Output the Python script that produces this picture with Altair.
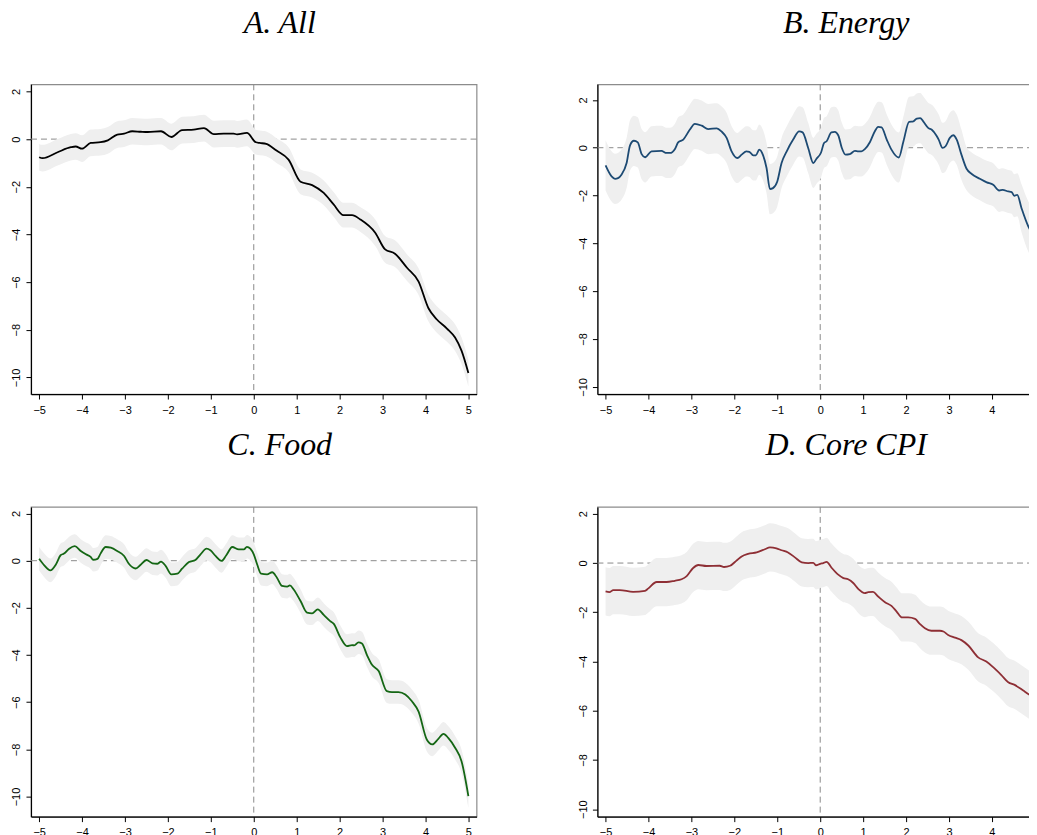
import altair as alt
import pandas as pd

# A. All
all_x = [-5, -4.92, -4.57, -4.26, -4.15, -4.0, -3.8, -3.57, -3.4, -3.18, -3.02,
         -2.83, -2.63, -2.47, -2.16, -1.92, -1.67, -1.4, -1.16, -0.93, -0.7,
         -0.47, -0.39, -0.16, 0.05, 0.14, 0.29, 0.53, 0.81, 1.09, 1.36, 1.63,
         1.86, 2.09, 2.29, 2.48, 2.83, 3.06, 3.29, 3.57, 3.84, 4.07, 4.26, 4.5,
         4.69, 4.84, 5.0]
all_y = [-0.76, -0.8, -0.55, -0.34, -0.31, -0.4, -0.16, -0.13, -0.05, 0.19,
         0.23, 0.33, 0.31, 0.30, 0.33, 0.09, 0.38, 0.40, 0.46, 0.21, 0.23, 0.23,
         0.2, 0.26, -0.13, -0.16, -0.2, -0.48, -0.86, -1.79, -1.93, -2.26,
         -2.74, -3.19, -3.19, -3.37, -3.93, -4.63, -4.81, -5.4, -5.98, -7.1,
         -7.56, -7.95, -8.33, -8.88, -9.82]
all_hw = [0.56] * 24 + [0.52] * 12 + [0.56] * 11

# B. Energy
energy_x = [-5, -4.86, -4.78, -4.71, -4.63, -4.51, -4.43, -4.34, -4.25, -4.16,
            -4.08, -3.93, -3.7, -3.58, -3.5, -3.38, -3.31, -3.19, -3.04, -2.92,
            -2.76, -2.61, -2.41, -2.3, -2.18, -2.07, -1.93, -1.83, -1.72, -1.65,
            -1.56, -1.5, -1.42, -1.33, -1.25, -1.17, -1.1, -1.0, -0.9, -0.78,
            -0.63, -0.49, -0.41, -0.28, -0.16, -0.09, 0.02, 0.09, 0.15, 0.26,
            0.34, 0.42, 0.5, 0.59, 0.69, 0.81, 0.89, 0.96, 1.04, 1.16, 1.27,
            1.35, 1.43, 1.55, 1.66, 1.83, 1.94, 2.07, 2.17, 2.25, 2.33, 2.4,
            2.52, 2.6, 2.71, 2.76, 2.85, 2.92, 3.02, 3.1, 3.18, 3.29, 3.41,
            3.53, 3.72, 3.88, 4.03, 4.17, 4.25, 4.38, 4.46, 4.52, 4.59, 4.69,
            4.85, 5.0]
energy_y = [-0.74, -1.2, -1.3, -1.27, -1.13, -0.64, 0.1, 0.29, 0.22, -0.27,
            -0.4, -0.15, -0.13, -0.22, -0.22, -0.04, 0.22, 0.34, 0.75, 1.0,
            0.92, 0.78, 0.81, 0.68, 0.41, -0.13, -0.43, -0.29, -0.15, -0.17,
            -0.32, -0.32, -0.08, -0.32, -0.85, -1.73, -1.69, -1.41, -0.64,
            -0.15, 0.34, 0.68, 0.64, -0.01, -0.64, -0.47, -0.2, 0.2, 0.27, 0.64,
            0.66, 0.52, 0.01, -0.29, -0.27, -0.13, -0.15, -0.15, -0.06, 0.24,
            0.68, 0.87, 0.85, 0.34, -0.08, -0.41, 0.27, 1.08, 1.1, 1.22, 1.24,
            1.1, 0.82, 0.75, 0.5, 0.34, -0.01, 0.06, 0.41, 0.52, 0.34, -0.29,
            -0.88, -1.1, -1.3, -1.45, -1.55, -1.79, -1.76, -1.83, -1.86, -2.01,
            -1.97, -2.53, -3.3, -3.72]
energy_hw = [1.05] * 82 + [0.9] * 11 + [1.0, 1.05, 1.1]

# C. Food
food_x = [-5, -4.88, -4.74, -4.61, -4.5, -4.42, -4.3, -4.17, -4.03, -3.91, -3.8,
          -3.74, -3.64, -3.57, -3.45, -3.33, -3.18, -3.02, -2.91, -2.75, -2.64,
          -2.5, -2.36, -2.25, -2.16, -2.05, -1.92, -1.78, -1.67, -1.51, -1.36,
          -1.24, -1.1, -1.01, -0.89, -0.75, -0.64, -0.5, -0.35, -0.23, -0.16,
          -0.08, 0.0, 0.08, 0.17, 0.31, 0.43, 0.54, 0.66, 0.78, 0.84, 0.93,
          1.09, 1.24, 1.36, 1.49, 1.63, 1.78, 1.86, 2.02, 2.17, 2.29, 2.34,
          2.44, 2.52, 2.64, 2.75, 2.91, 3.1, 3.22, 3.37, 3.53, 3.68, 3.84,
          4.03, 4.16, 4.3, 4.42, 4.53, 4.69, 4.84, 5.0]
food_y = [0.08, -0.2, -0.41, -0.16, 0.23, 0.3, 0.51, 0.62, 0.41, 0.27, 0.16,
          0.04, 0.08, 0.3, 0.58, 0.55, 0.41, 0.2, -0.13, -0.33, -0.18, 0.03,
          -0.11, -0.13, -0.04, -0.23, -0.58, -0.55, -0.34, -0.06, 0.03, 0.27,
          0.51, 0.44, 0.2, -0.01, 0.23, 0.58, 0.48, 0.48, 0.59, 0.51, 0.27,
          -0.16, -0.55, -0.58, -0.49, -0.72, -1.07, -1.1, -1.05, -1.22, -1.71,
          -2.2, -2.23, -2.06, -2.3, -2.56, -2.67, -3.26, -3.62, -3.58, -3.59,
          -3.46, -3.51, -4.01, -4.4, -4.68, -5.53, -5.57, -5.57, -5.67, -5.95,
          -6.4, -7.58, -7.79, -7.55, -7.34, -7.51, -7.93, -8.5, -9.98]
food_hw = [0.5] * 82

# D. Core CPI
core_x = [-5, -4.91, -4.82, -4.67, -4.36, -4.08, -4.01, -3.81, -3.58, -3.39,
          -3.23, -3.11, -2.96, -2.84, -2.65, -2.34, -2.24, -2.1, -1.95, -1.83,
          -1.68, -1.48, -1.29, -1.17, -1.02, -0.9, -0.75, -0.59, -0.43, -0.28,
          -0.16, -0.1, 0.0, 0.07, 0.15, 0.26, 0.42, 0.54, 0.65, 0.77, 0.89,
          1.04, 1.12, 1.23, 1.35, 1.51, 1.66, 1.78, 1.91, 2.05, 2.21, 2.32,
          2.44, 2.59, 2.79, 2.87, 2.98, 3.14, 3.29, 3.45, 3.68, 3.87, 4.03,
          4.22, 4.38, 4.53, 4.73, 4.88, 5.0]
core_y = [-1.15, -1.18, -1.1, -1.1, -1.17, -1.13, -1.04, -0.77, -0.77, -0.72,
          -0.66, -0.53, -0.2, -0.08, -0.12, -0.11, -0.16, -0.11, 0.1, 0.27,
          0.37, 0.43, 0.56, 0.64, 0.6, 0.52, 0.43, 0.23, 0.03, 0.0, 0.01,
          -0.09, -0.03, 0.0, 0.05, -0.18, -0.47, -0.61, -0.66, -0.81, -1.06,
          -1.22, -1.18, -1.17, -1.36, -1.59, -1.74, -1.97, -2.21, -2.21, -2.27,
          -2.47, -2.65, -2.75, -2.75, -2.78, -2.92, -3.03, -3.13, -3.35, -3.83,
          -4.0, -4.23, -4.55, -4.84, -4.95, -5.18, -5.36, -5.52]
core_hw = [0.98] * 69

y_ticks = [-10, -8, -6, -4, -2, 0, 2]
x_ticks = [-5, -4, -3, -2, -1, 0, 1, 2, 3, 4, 5]


def panel(title, xs, ys, hws, color, y_domain):
    df = pd.DataFrame({'x': xs, 'y': ys, 'hw': hws})
    df['lo'] = df['y'] - df['hw']
    df['hi'] = df['y'] + df['hw']

    xscale = alt.Scale(domain=[-5.19, 5.19], nice=False, zero=False)
    yscale = alt.Scale(domain=y_domain, nice=False, zero=False)
    xaxis = alt.Axis(values=x_ticks, title=None, grid=False, labelPadding=5)
    yaxis = alt.Axis(values=y_ticks, title=None, grid=False, labelAngle=-90,
                     labelAlign='center', labelBaseline='bottom')

    # dashed reference lines at zero (drawn under the band)
    zero = pd.DataFrame({'z': [0]})
    hline = alt.Chart(zero).mark_rule(
        color='#8a8a8a', strokeDash=[6, 4], strokeWidth=1
    ).encode(y=alt.datum(0, scale=yscale))
    vline = alt.Chart(zero).mark_rule(
        color='#8a8a8a', strokeDash=[6, 4], strokeWidth=1
    ).encode(x=alt.datum(0, scale=xscale))

    band = alt.Chart(df).mark_area(
        color='#efefef', clip=True, interpolate='monotone'
    ).encode(
        x=alt.X('x:Q', scale=xscale, axis=xaxis),
        y=alt.Y('lo:Q', scale=yscale, axis=yaxis),
        y2='hi:Q'
    )
    line = alt.Chart(df).mark_line(
        color=color, strokeWidth=1.8, clip=True, interpolate='monotone'
    ).encode(
        x=alt.X('x:Q', scale=xscale, axis=xaxis),
        y=alt.Y('y:Q', scale=yscale, axis=yaxis)
    )

    return alt.layer(hline, vline, band, line).properties(
        width=446,
        height=310,
        title=alt.TitleParams(
            text=title, font='Liberation Serif', fontStyle='italic',
            fontSize=32, fontWeight='normal', color='black',
            anchor='middle', dx=26, baseline='alphabetic', offset=19
        )
    )


a = panel('A. All', all_x, all_y, all_hw, 'black', [-10.7, 2.3])
b = panel('B. Energy', energy_x, energy_y, energy_hw, '#1d4a73', [-10.3, 2.65])
c = panel('C. Food', food_x, food_y, food_hw, '#146614', [-10.85, 2.28])
d = panel('D. Core CPI', core_x, core_y, core_hw, '#8e2f35', [-10.3, 2.28])

# the right-hand panels run past the page edge, as in the original figure
chart = alt.vconcat(
    alt.hconcat(a, b, spacing=98),
    alt.hconcat(c, d, spacing=98),
    spacing=12
).properties(
    padding={'left': 2, 'top': -3, 'right': -16, 'bottom': 0}
).configure_view(
    stroke='#8c8c8c', strokeWidth=1.2
).configure_axis(
    labelFont='Liberation Sans', labelFontSize=11, labelColor='black',
    domainColor='black', tickColor='black', tickSize=5, labelPadding=4,
    domainWidth=1.2
)

chart.save('out.html', embed_options={'renderer': 'svg', 'actions': False})
